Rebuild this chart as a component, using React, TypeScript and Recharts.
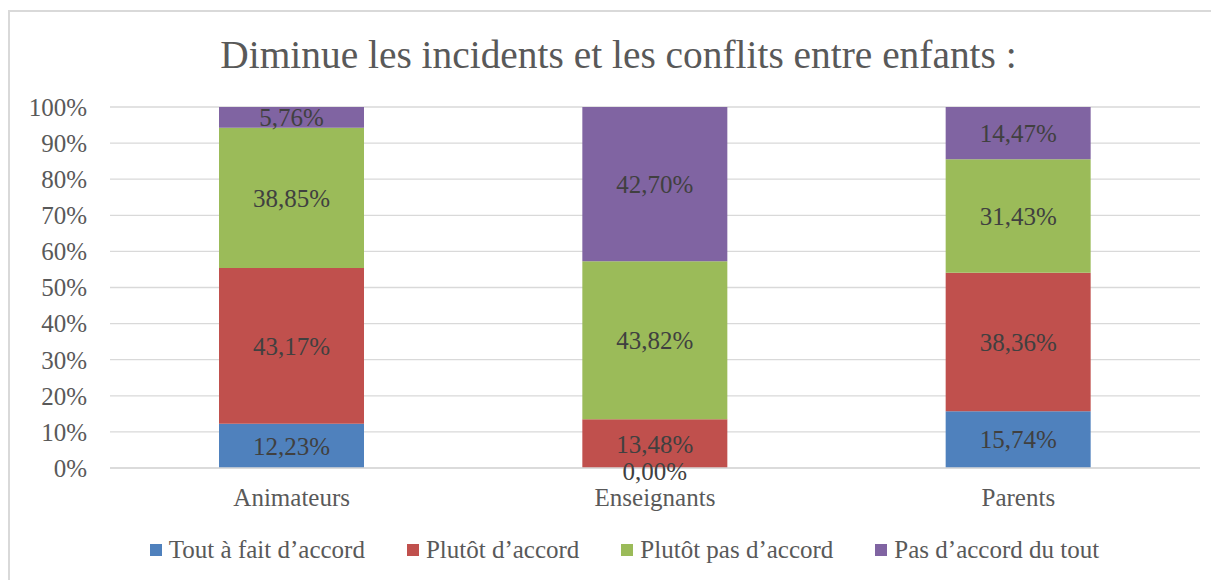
import React from 'react';
import { BarChart, Bar, XAxis, YAxis, CartesianGrid, LabelList, Legend } from 'recharts';

const categories = ['Animateurs', 'Enseignants', 'Parents'];
const seriesNames = ['Tout à fait d’accord', 'Plutôt d’accord', 'Plutôt pas d’accord', 'Pas d’accord du tout'];
const toutAFait = [12.23, 0.0, 15.74];
const plutotAccord = [43.17, 13.48, 38.36];
const plutotPas = [38.85, 43.82, 31.43];
const pasDuTout = [5.76, 42.7, 14.47];
const yTicks = [0, 10, 20, 30, 40, 50, 60, 70, 80, 90, 100];
const colors = ['#4F81BD', '#C0504D', '#9BBB59', '#8064A2'];
const title = 'Diminue les incidents et les conflits entre enfants :';

const keys = ['s0', 's1', 's2', 's3'];
const data = categories.map((c, i) => ({
  name: c,
  s0: toutAFait[i],
  s1: plutotAccord[i],
  s2: plutotPas[i],
  s3: pasDuTout[i],
}));

const FONT = '"Liberation Serif", "Times New Roman", serif';
const fmt = (v: any) => Number(v).toFixed(2).replace('.', ',') + '%';

// Label for zero-height first segments: drawn at the base of the next segment
const ZeroLabel = (props: any) => {
  const { viewBox, index } = props;
  if (!viewBox || index == null || toutAFait[index] !== 0) return null;
  const { x, y, width, height } = viewBox;
  return (
    <text
      x={x + width / 2}
      y={y + height + 3}
      textAnchor="middle"
      dominantBaseline="central"
      fill="#404040"
      fontSize={25}
      fontFamily={FONT}
    >
      {fmt(toutAFait[index])}
    </text>
  );
};

const LegendContent = () => (
  <div
    style={{
      display: 'flex',
      justifyContent: 'center',
      alignItems: 'center',
      height: 30,
      paddingLeft: 22,
      fontFamily: FONT,
      fontSize: 25,
      color: '#595959',
    }}
  >
    {seriesNames.map((n, i) => (
      <div key={n} style={{ display: 'flex', alignItems: 'center', marginRight: i < 3 ? 42 : 0 }}>
        <span style={{ display: 'inline-block', width: 12, height: 12, background: colors[i], marginRight: 7 }} />
        <span style={{ whiteSpace: 'nowrap' }}>{n}</span>
      </div>
    ))}
  </div>
);

export default function App() {
  return (
    <div style={{ position: 'relative', width: 1211, height: 572, overflow: 'hidden', background: '#fff' }}>
      <div
        style={{
          position: 'absolute',
          left: 0,
          top: 2,
          width: 1400,
          height: 800,
          borderLeft: '2px solid #D9D9D9',
          borderTop: '2px solid #D9D9D9',
        }}
      />
      <svg style={{ position: 'absolute', left: 0, top: 0 }} width={1211} height={100}>
        <text x={610.5} y={60} textAnchor="middle" fontFamily={FONT} fontSize={39.4} fill="#595959">
          {title}
        </text>
      </svg>
      <div style={{ position: 'absolute', left: 0, top: 0 }}>
        <BarChart
          width={1211}
          height={572}
          data={data}
          margin={{ top: 99, right: 19, bottom: 22, left: 0 }}
          barSize={145}
        >
          <CartesianGrid vertical={false} stroke="#D9D9D9" strokeWidth={1.3} />
          <XAxis
            dataKey="name"
            axisLine={{ stroke: '#D9D9D9', strokeWidth: 1.3 }}
            tickLine={false}
            tickSize={0}
            tickMargin={20}
            height={60}
            tick={{ fill: '#595959', fontSize: 25, fontFamily: FONT }}
          />
          <YAxis
            width={102}
            domain={[0, 100]}
            ticks={yTicks}
            allowDataOverflow
            axisLine={false}
            tickLine={false}
            tickSize={0}
            tickMargin={23}
            tickFormatter={(v: number) => `${v}%`}
            tick={{ fill: '#595959', fontSize: 25, fontFamily: FONT }}
          />
          <Legend
            content={<LegendContent />}
            verticalAlign="bottom"
            height={30}
            wrapperStyle={{ top: 527, bottom: 'auto', left: 0, width: 1211 }}
          />
          {keys.map((k, i) => (
            <Bar key={k} dataKey={k} name={seriesNames[i]} stackId="a" fill={colors[i]} isAnimationActive={false}>
              <LabelList
                dataKey={k}
                position="center"
                formatter={fmt}
                fill="#404040"
                fontSize={25}
                fontFamily={FONT}
              />
              {i === 1 ? <LabelList dataKey="s0" content={<ZeroLabel />} /> : null}
            </Bar>
          ))}
        </BarChart>
      </div>
    </div>
  );
}
